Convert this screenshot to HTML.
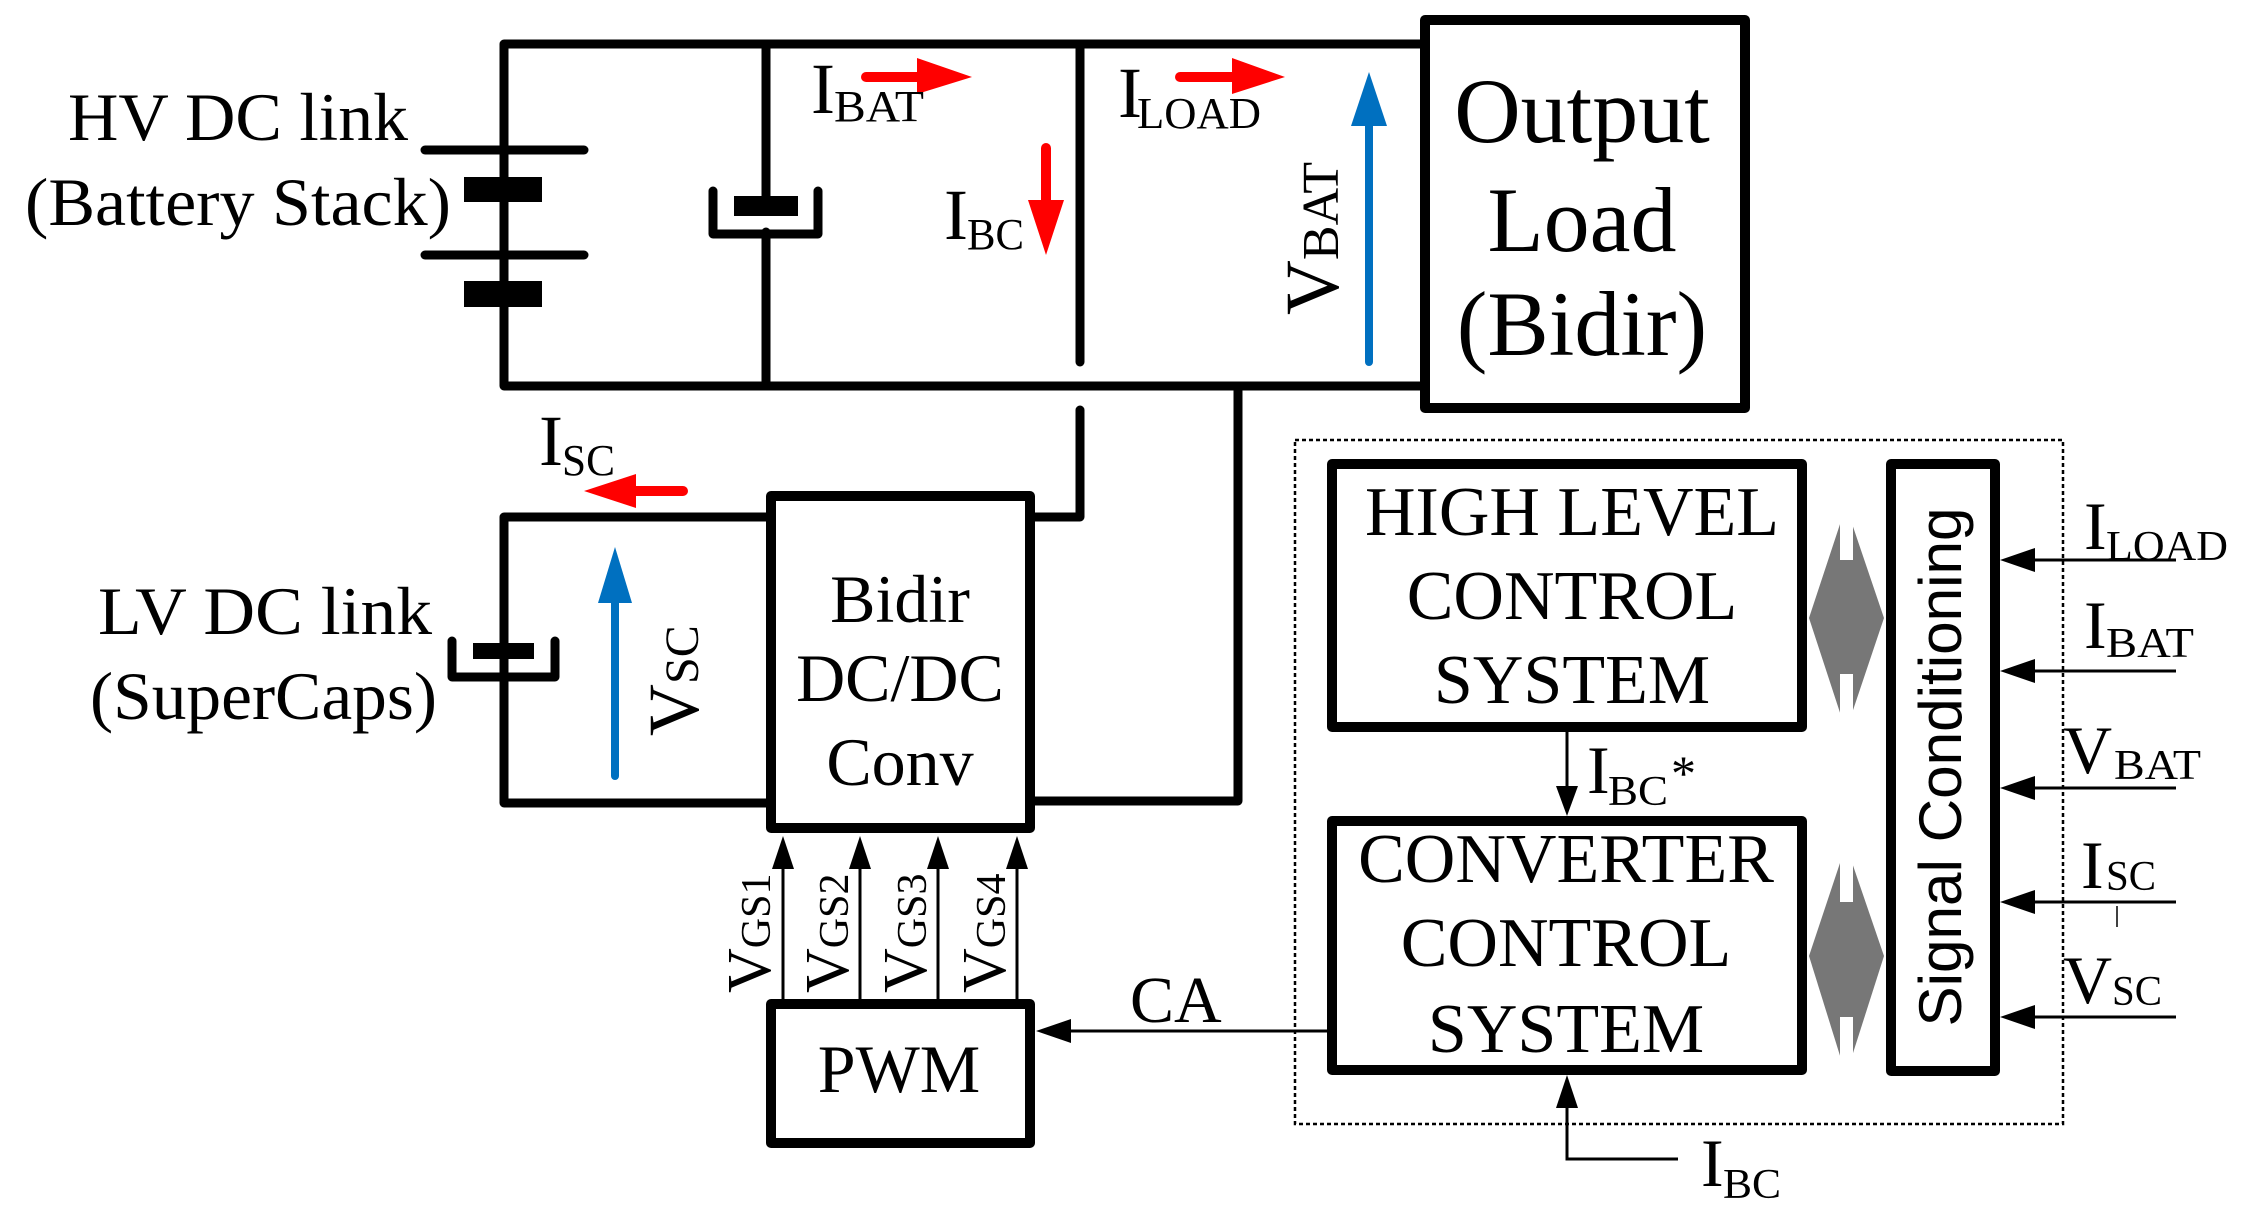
<!DOCTYPE html>
<html><head><meta charset="utf-8"><style>
html,body{margin:0;padding:0;background:#fff;}
svg{display:block;}
text{font-family:"Liberation Serif",serif;fill:#000;}
.s{font-family:"Liberation Sans",sans-serif;}
</style></head><body>
<svg width="2246" height="1219" viewBox="0 0 2246 1219" xmlns="http://www.w3.org/2000/svg">
<g stroke="#000" stroke-width="9" fill="none" stroke-linecap="round" stroke-linejoin="round">
  <polyline points="1420,44 504,44 504,386 1420,386"/>
  <line x1="766" y1="44" x2="766" y2="200"/>
  <line x1="766" y1="232" x2="766" y2="386"/>
  <line x1="1080" y1="44" x2="1080" y2="362"/>
  <polyline points="1080,410 1080,517 1035,517"/>
  <polyline points="1238,386 1238,801 1035,801"/>
  <polyline points="766,517 504,517 504,803 766,803"/>
  <polyline points="713,191 713,234 818,234 818,191"/>
  <polyline points="452,641 452,677 555,677 555,641"/>
  <line x1="425" y1="150" x2="584" y2="150"/>
  <line x1="425" y1="255" x2="584" y2="255"/>
</g>
<g fill="#000">
  <rect x="464" y="177" width="78" height="25"/>
  <rect x="464" y="281" width="78" height="26"/>
  <rect x="734" y="196" width="64" height="20"/>
  <rect x="473" y="643" width="61" height="16"/>
</g>
<g stroke="#000" stroke-width="10" fill="#fff" stroke-linejoin="round">
  <rect x="1425" y="20" width="320" height="388"/>
  <rect x="771" y="496" width="259" height="332"/>
  <rect x="771" y="1004" width="259" height="139"/>
  <rect x="1332" y="464" width="470" height="263"/>
  <rect x="1332" y="821" width="470" height="249"/>
  <rect x="1891" y="464" width="104" height="607"/>
</g>
<rect x="1295" y="440" width="768" height="684" fill="none" stroke="#000" stroke-width="2.5" stroke-dasharray="4 3"/>
<g stroke="#f00" stroke-width="10" stroke-linecap="round" fill="#f00">
  <line x1="866" y1="77" x2="920" y2="77"/><polygon stroke="none" points="917,58 972,77 917,94"/>
  <line x1="1180" y1="77" x2="1234" y2="77"/><polygon stroke="none" points="1232,58 1285,77 1232,94"/>
  <line x1="1046" y1="148" x2="1046" y2="202"/><polygon stroke="none" points="1028,200 1064,200 1046,255"/>
  <line x1="683" y1="491" x2="634" y2="491"/><polygon stroke="none" points="636,474 584,491 636,508"/>
</g>
<g stroke="#0070c0" stroke-width="8" stroke-linecap="round" fill="#0070c0">
  <line x1="1369" y1="120" x2="1369" y2="362"/><polygon stroke="none" points="1351,126 1369,72 1387,126"/>
  <line x1="615" y1="600" x2="615" y2="776"/><polygon stroke="none" points="598,603 615,547 632,603"/>
</g>
<g stroke="#000" stroke-width="3" fill="none">
  <line x1="783" y1="860" x2="783" y2="1000"/>
  <line x1="860" y1="860" x2="860" y2="1000"/>
  <line x1="938" y1="860" x2="938" y2="1000"/>
  <line x1="1017" y1="860" x2="1017" y2="1000"/>
  <line x1="1065" y1="1031" x2="1327" y2="1031"/>
  <line x1="1567" y1="731" x2="1567" y2="790"/>
  <polyline points="1567,1100 1567,1159 1678,1159"/>
  <line x1="2030" y1="560" x2="2176" y2="560"/>
  <line x1="2030" y1="671" x2="2176" y2="671"/>
  <line x1="2030" y1="788" x2="2176" y2="788"/>
  <line x1="2030" y1="902" x2="2176" y2="902"/>
  <line x1="2030" y1="1017" x2="2176" y2="1017"/>
  <line x1="2117" y1="906" x2="2117" y2="927" stroke-width="1.5"/>
</g>
<g fill="#000">
  <polygon points="772,869 794,869 783,836"/>
  <polygon points="849,869 871,869 860,836"/>
  <polygon points="927,869 949,869 938,836"/>
  <polygon points="1006,869 1028,869 1017,836"/>
  <polygon points="1036,1031 1071,1019 1071,1043"/>
  <polygon points="1556,786 1578,786 1567,816"/>
  <polygon points="1556,1108 1578,1108 1567,1075"/>
  <polygon points="2000,560 2035,548 2035,572"/>
  <polygon points="2000,671 2035,659 2035,683"/>
  <polygon points="2000,788 2035,776 2035,800"/>
  <polygon points="2000,902 2035,890 2035,914"/>
  <polygon points="2000,1017 2035,1005 2035,1029"/>
</g>
<g fill="#777">
  <polygon points="1846,506 1884,618 1846,731 1809,618"/>
  <polygon points="1846,845 1884,956 1846,1075 1809,956"/>
</g>
<g fill="#fff">
  <rect x="1840" y="500" width="13" height="60"/>
  <rect x="1840" y="674" width="13" height="60"/>
  <rect x="1840" y="840" width="13" height="62"/>
  <rect x="1840" y="1017" width="13" height="62"/>
</g>
<text x="68" y="140" font-size="68" textLength="340" lengthAdjust="spacingAndGlyphs">HV DC link</text>
<text x="25" y="225" font-size="68" textLength="426" lengthAdjust="spacingAndGlyphs">(Battery Stack)</text>
<text x="98" y="634" font-size="68" textLength="334" lengthAdjust="spacingAndGlyphs">LV DC link</text>
<text x="90" y="719" font-size="68" textLength="347" lengthAdjust="spacingAndGlyphs">(SuperCaps)</text>

<text x="811" y="113" font-size="72">I</text><text x="834" y="121" font-size="44" textLength="90" lengthAdjust="spacingAndGlyphs">BAT</text>
<text x="1118" y="117" font-size="72">I</text><text x="1137" y="128" font-size="44" textLength="124" lengthAdjust="spacingAndGlyphs">LOAD</text>
<text x="944" y="239" font-size="72">I</text><text x="967" y="249" font-size="44" textLength="57" lengthAdjust="spacingAndGlyphs">BC</text>
<text x="539" y="465" font-size="72">I</text><text x="562" y="475" font-size="44" textLength="53" lengthAdjust="spacingAndGlyphs">SC</text>

<g transform="translate(1338,315) rotate(-90)"><text x="0" y="0" font-size="76">V<tspan font-size="52">BAT</tspan></text></g>
<g transform="translate(698,736) rotate(-90)"><text x="0" y="0" font-size="72">V<tspan font-size="48">SC</tspan></text></g>
<g transform="translate(770,993) rotate(-90)"><text font-size="62">V<tspan font-size="42">GS1</tspan></text></g>
<g transform="translate(848,993) rotate(-90)"><text font-size="62">V<tspan font-size="42">GS2</tspan></text></g>
<g transform="translate(926,993) rotate(-90)"><text font-size="62">V<tspan font-size="42">GS3</tspan></text></g>
<g transform="translate(1005,993) rotate(-90)"><text font-size="62">V<tspan font-size="42">GS4</tspan></text></g>

<g font-size="92" text-anchor="middle">
  <text x="1582" y="142">Output</text>
  <text x="1582" y="251">Load</text>
  <text x="1582" y="355">(Bidir)</text>
</g>
<g font-size="68" text-anchor="middle">
  <text x="900" y="622">Bidir</text>
  <text x="900" y="701">DC/DC</text>
  <text x="900" y="785">Conv</text>
  <text x="899" y="1092">PWM</text>
</g>
<g font-size="70" text-anchor="middle">
  <text x="1572" y="535">HIGH LEVEL</text>
  <text x="1572" y="619">CONTROL</text>
  <text x="1572" y="703">SYSTEM</text>
  <text x="1566" y="882">CONVERTER</text>
  <text x="1566" y="966">CONTROL</text>
  <text x="1566" y="1052">SYSTEM</text>
</g>
<text x="1130" y="1022" font-size="66">CA</text>
<g transform="translate(1961,767) rotate(-90)"><text class="s" x="0" y="0" font-size="60" text-anchor="middle" textLength="519" lengthAdjust="spacingAndGlyphs">Signal Conditioning</text></g>

<text x="2084" y="549" font-size="68">I</text><text x="2106" y="560" font-size="42" textLength="122" lengthAdjust="spacingAndGlyphs">LOAD</text>
<text x="2084" y="648" font-size="68">I</text><text x="2106" y="657" font-size="42" textLength="88" lengthAdjust="spacingAndGlyphs">BAT</text>
<text x="2063" y="773" font-size="68">V</text><text x="2114" y="779" font-size="42" textLength="87" lengthAdjust="spacingAndGlyphs">BAT</text>
<text x="2081" y="888" font-size="68">I</text><text x="2106" y="890" font-size="42" textLength="50" lengthAdjust="spacingAndGlyphs">SC</text>
<text x="2063" y="1003" font-size="68">V</text><text x="2112" y="1005" font-size="42" textLength="50" lengthAdjust="spacingAndGlyphs">SC</text>

<text x="1587" y="793" font-size="68">I</text><text x="1608" y="805" font-size="42" textLength="60" lengthAdjust="spacingAndGlyphs">BC</text><text x="1671" y="790" font-size="50">*</text>
<text x="1701" y="1186" font-size="68">I</text><text x="1723" y="1198" font-size="42" textLength="58" lengthAdjust="spacingAndGlyphs">BC</text>
</svg>
</body></html>
